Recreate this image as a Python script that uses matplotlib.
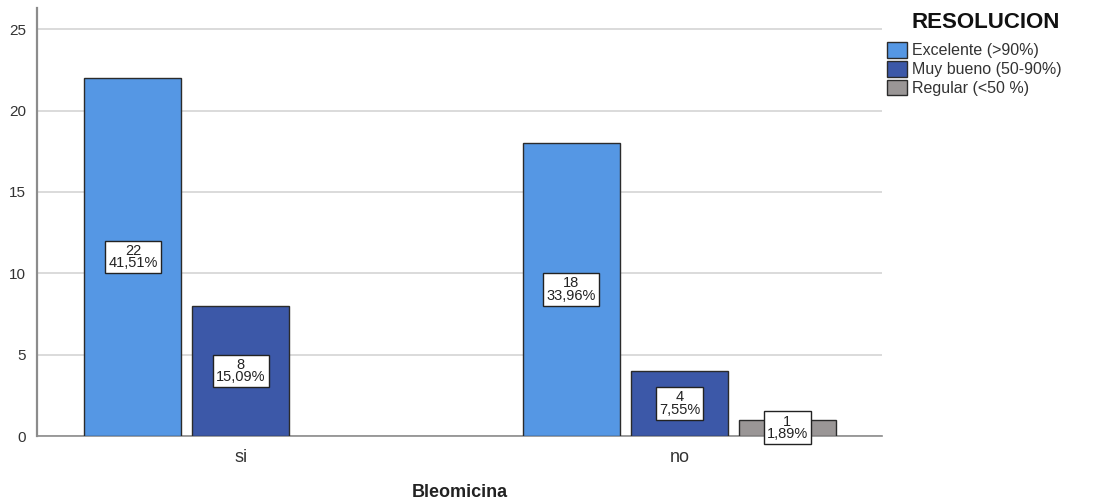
import matplotlib.pyplot as plt
import numpy as np

plt.rcParams["font.family"] = ["Liberation Sans", "DejaVu Sans"]

categories = ["si", "no"]
series_names = ["Excelente (>90%)", "Muy bueno (50-90%)", "Regular (<50 %)"]
counts = {
    "Excelente (>90%)": [22, 18],
    "Muy bueno (50-90%)": [8, 4],
    "Regular (<50 %)": [0, 1],
}
percents = {
    "Excelente (>90%)": ["41,51%", "33,96%"],
    "Muy bueno (50-90%)": ["15,09%", "7,55%"],
    "Regular (<50 %)": ["", "1,89%"],
}
colors = ["#5597e4", "#3c58a8", "#9a9696"]

fig = plt.figure(figsize=(10.93, 5.0), dpi=100)
ax = fig.add_axes([0.0339, 0.128, 0.773, 0.856])

x = np.arange(len(categories))
width = 0.221
step = 0.2463

for i, name in enumerate(series_names):
    vals = counts[name]
    xs = x + (i - 1) * step
    for xi, v, pct in zip(xs, vals, percents[name]):
        if v <= 0:
            continue
        ax.bar(xi, v, width=width, color=colors[i], edgecolor="#2b2b2b",
               linewidth=1.0, zorder=3)
        ax.text(xi, v / 2, f"{v}\n{pct}", ha="center", va="center",
                fontsize=10.5, linespacing=0.85, color="#222222", zorder=4,
                bbox=dict(boxstyle="square,pad=0.22", facecolor="white",
                          edgecolor="#222222", linewidth=1.0))

ax.set_xlim(-0.465, 1.462)
ax.set_ylim(0, 26.3)
ax.set_yticks([0, 5, 10, 15, 20, 25])
ax.set_xticks(x)
ax.set_xticklabels(categories, fontsize=13, color="#333333")
ax.tick_params(axis="y", labelsize=11, colors="#333333", length=0, pad=8)
ax.tick_params(axis="x", length=0, pad=9)
ax.yaxis.grid(True, color="#d4d4d4", linewidth=1.2, zorder=0)
ax.set_axisbelow(True)

for s in ["top", "right"]:
    ax.spines[s].set_visible(False)
ax.spines["left"].set_color("#8c8c8c")
ax.spines["left"].set_linewidth(1.6)
ax.spines["bottom"].set_color("#8c8c8c")
ax.spines["bottom"].set_linewidth(1.2)

ax.set_xlabel("Bleomicina", fontsize=13, fontweight="bold", labelpad=13,
              color="#222222")

# Legend title drawn separately so it sits higher above the entries
fig.text(0.9015, 0.954, "RESOLUCION", ha="center", va="center",
         fontsize=16, fontweight="bold", color="#111111")

handles = [plt.Rectangle((0, 0), 1, 1, facecolor=c, edgecolor="#2b2b2b",
                         linewidth=1.0) for c in colors]
leg = fig.legend(handles, series_names,
                 loc="upper left", bbox_to_anchor=(0.806, 0.928),
                 frameon=False, fontsize=11.5, handlelength=1.25,
                 handleheight=1.1, handletextpad=0.3, labelspacing=0.17,
                 borderaxespad=0)
for t in leg.get_texts():
    t.set_color("#333333")

fig.savefig("out.png", dpi=100)
